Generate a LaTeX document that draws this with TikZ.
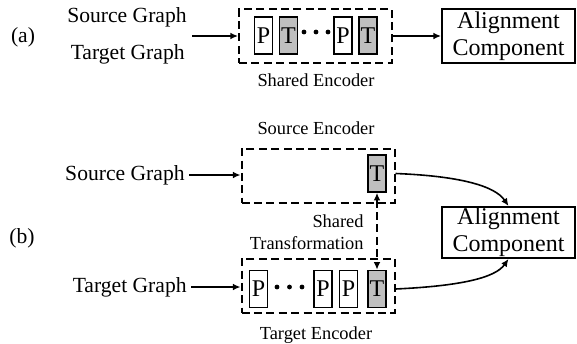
\documentclass[tikz,border=0pt]{standalone}
\usepackage{fontspec}
\setmainfont{Liberation Serif}
\usetikzlibrary{arrows.meta}
\definecolor{tgray}{RGB}{191,191,191}
\begin{document}
\begin{tikzpicture}[x=0.5pt,y=-0.5pt,
  lbl/.style={inner sep=2pt, font=\fontsize{10.8}{13}\selectfont},
  captxt/.style={inner sep=1pt, font=\fontsize{9.2}{11}\selectfont},
  dsh/.style={line width=1pt, dash pattern=on 4pt off 2.2pt},
  enc/.style={draw, dsh, minimum width=76.5pt, minimum height=27pt, inner sep=0pt},
  pbox/.style={draw, line width=0.8pt, minimum width=9pt, minimum height=18.5pt, inner sep=0pt, font=\fontsize{12}{12}\selectfont},
  tbox/.style={pbox, fill=tgray},
  alignbox/.style={draw, line width=1pt, minimum width=66.5pt, minimum height=27pt, align=center, inner sep=0pt, font=\fontsize{12}{13.5}\selectfont},
  tip/.style={Latex[length=3.8pt,width=3.4pt]},
  arr/.style={-{Latex[length=3.8pt,width=3.4pt]}, line width=0.8pt},
  dotn/.style={circle, fill=black, inner sep=0pt, minimum size=2.4pt},
  ]
\useasboundingbox (0,0) rectangle (577,343);

% ---------- (a) ----------
\node[lbl] (la) at (23,37) {(a)};
\node[lbl] (srcA) at (127,17) {Source Graph};
\node[lbl, anchor=east] (tgtA) at (189,54) {Target Graph};
\coordinate (ina) at (192,36);
\node[enc] (encA) at (315.5,36) {};
\node[pbox] (pa1) at (263.5,35.5) {P};
\node[tbox] (ta1) at (288.5,35.5) {T};
\node[dotn] (da1) at (304,32) {};
\node[dotn] (da2) at (316,32) {};
\node[dotn] (da3) at (328,32) {};
\node[pbox] (pa2) at (343,35.5) {P};
\node[tbox] (ta2) at (368,35.5) {T};
\node[captxt] (capA) at (316,80) {Shared Encoder};
\node[alignbox] (alA) at (508.5,36) {Alignment\\Component};
\draw[arr] (ina) -- (encA.west);
\draw[arr] (encA.east) -- (alA.west);

% ---------- (b) ----------
\node[lbl] (lb) at (22,238) {(b)};
\node[captxt] (capS) at (316,128) {Source Encoder};
\node[enc] (encS) at (318,175.5) {};
\node[tbox] (Ts) at (377,173.5) {T};
\node[lbl, anchor=east] (srcB) at (189,175) {Source Graph};
\draw[arr] (srcB.east) -- (srcB.east -| encS.west);

\node[captxt, align=right, anchor=east] (shr) at (366,232) {Shared\\Transformation};

\node[enc] (encT) at (318,285.5) {};
\node[pbox] (pb1) at (258.5,289) {P};
\node[dotn] (db1) at (277,287) {};
\node[dotn] (db2) at (289.5,287) {};
\node[dotn] (db3) at (302,287) {};
\node[pbox] (pb2) at (323,289) {P};
\node[pbox] (pb3) at (348.5,289) {P};
\node[tbox] (Tt) at (377,289) {T};
\node[lbl, anchor=east] (tgtB) at (191,287) {Target Graph};
\draw[arr] (tgtB.east) -- (tgtB.east -| encT.west);
\node[captxt] (capT) at (316,335) {Target Encoder};

\draw[dsh, {Latex[length=3.8pt,width=3.4pt]}-{Latex[length=3.8pt,width=3.4pt]}] (Ts.south) -- (Tt.north);

\node[alignbox, minimum height=25.5pt] (alB) at (508.5,232.5) {Alignment\\Component};

\draw[arr] (encS.east |- Ts.east) .. controls (460,176) and (495,186) .. (alB.north);
\draw[arr] (encT.east |- Tt.east) .. controls (460,286) and (495,278) .. (alB.south);
\end{tikzpicture}
\end{document}
